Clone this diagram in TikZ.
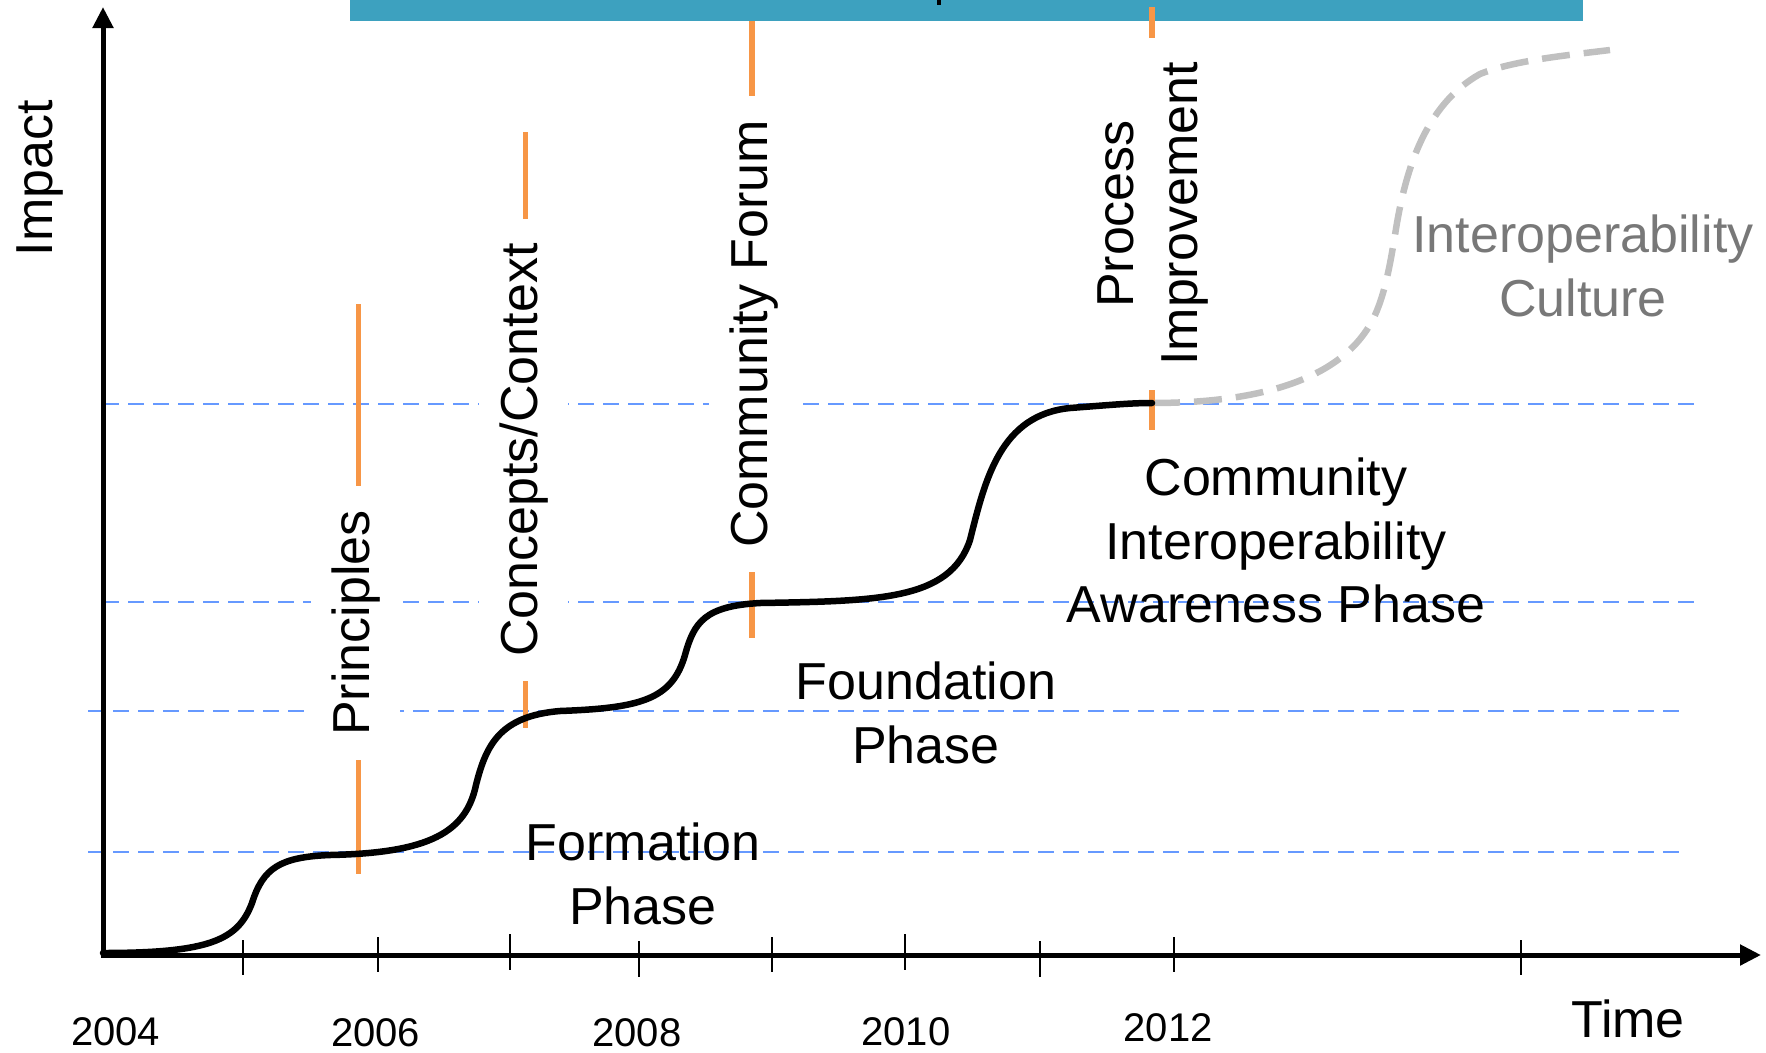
\documentclass[tikz,border=0pt]{standalone}
\usepackage{fontspec}
\setmainfont{Liberation Sans}
\usetikzlibrary{arrows.meta}
\definecolor{barblue}{RGB}{61,161,191}
\definecolor{gridblue}{RGB}{102,153,255}
\definecolor{mileorange}{RGB}{247,150,70}
\definecolor{futuregray}{RGB}{192,192,192}
\definecolor{labelgray}{RGB}{120,120,120}
\tikzset{
  gridline/.style={gridblue, line width=2.7pt, dash pattern=on 16pt off 9pt},
  milestone/.style={mileorange, line width=5.5pt},
  vlabel/.style={rotate=90, fill=white, inner xsep=24pt, inner ysep=20pt, font=\fontsize{52}{64}\selectfont},
  phase/.style={align=center, inner sep=0pt, anchor=north, font=\fontsize{52}{63.5}\selectfont},
  yearlabel/.style={anchor=base, inner sep=0pt, font=\fontsize{40}{48}\selectfont},
  biglabel/.style={anchor=base, inner sep=0pt, font=\fontsize{52}{63}\selectfont},
  axisline/.style={line width=5pt, -{Triangle[length=21pt,width=20pt]}},
  tickline/.style={line width=2.5pt},
  growth/.style={line width=6.5pt, line cap=round},
  future/.style={futuregray, line width=6.5pt, dash pattern=on 28pt off 14pt},
}
\begin{document}
\begin{tikzpicture}[x=1pt,y=-1pt]
\useasboundingbox (0,0) rectangle (1766,1052);

% top bar
\fill[barblue] (350,0) rectangle (1583,21);
\fill[black] (937,0) rectangle (941,5);

% horizontal dashed reference lines
\draw[gridline] (103,404) -- (1695,404);
\draw[gridline] (103,602) -- (1695,602);
\draw[gridline] (88,711) -- (1680,711);
\draw[gridline] (88,852) -- (1680,852);

% future (dashed grey) curve
\draw[future] (1152,403) .. controls (1280,403) and (1350,370) .. (1375,315)
  .. controls (1385,293) and (1390,265) .. (1395,235)
  .. controls (1405,170) and (1425,105) .. (1480,74)
  .. controls (1515,60) and (1570,55) .. (1610,50);

% milestone lines
\draw[milestone] (358.5,304) -- (358.5,874);
\draw[milestone] (525.5,132) -- (525.5,728);
\draw[milestone] (752,21) -- (752,638);
\draw[milestone] (1152,7) -- (1152,430);

% milestone labels
\node[vlabel, anchor=base] (principles) at (369,623) {Principles};
\node[vlabel, anchor=base] (concepts) at (537,450) {Concepts/Context};
\node[vlabel, anchor=base] (forum) at (767,334) {Community Forum};
\node[vlabel, anchor=north, align=center] (process) at (1078,214) {Process\\Improvement};

% phase labels
\node[phase] (formation) at (643,823) {Formation\\Phase};
\node[phase] (foundation) at (926,662) {Foundation\\Phase};
\node[phase] (awareness) at (1276,458) {Community\\Interoperability\\Awareness Phase};
\node[phase, text=labelgray] (culture) at (1583,215) {Interoperability\\Culture};

% growth curve
\draw[growth] (103,953) .. controls (210,953) and (238,940) .. (252,903)
  .. controls (263,868) and (280,857) .. (330,855)
  .. controls (430,853) and (466,832) .. (476,785)
  .. controls (486,745) and (500,716) .. (560,711)
  .. controls (640,708) and (672,700) .. (685,655)
  .. controls (694,622) and (705,606) .. (760,603)
  .. controls (880,601) and (950,600) .. (970,540)
  .. controls (985,480) and (1000,415) .. (1070,408)
  .. controls (1110,405) and (1130,403) .. (1152,403);

% axes
\coordinate (origin) at (103,957.5);
\coordinate (ytop) at (103,7);
\coordinate (xorigin) at (100.5,955);
\coordinate (xend) at (1761,955);
\draw[axisline] (origin) -- (ytop);
\draw[axisline] (xorigin) -- (xend);

% ticks
\draw[tickline] (243,940) -- (243,975);
\draw[tickline] (378,937) -- (378,972);
\draw[tickline] (510,934) -- (510,970);
\draw[tickline] (639,941) -- (639,977);
\draw[tickline] (772,937) -- (772,972);
\draw[tickline] (905,934) -- (905,970);
\draw[tickline] (1040,941) -- (1040,977);
\draw[tickline] (1174,937) -- (1174,972);
\draw[tickline] (1521,940) -- (1521,975);

% axis labels
\node[yearlabel] (y2004) at (115.5,1045) {2004};
\node[yearlabel] (y2006) at (375.5,1046.5) {2006};
\node[yearlabel] (y2008) at (637,1046.5) {2008};
\node[yearlabel] (y2010) at (906,1045) {2010};
\node[yearlabel] (y2012) at (1168,1041) {2012};
\node[biglabel] (time) at (1628,1037) {Time};
\node[biglabel, rotate=90] (impact) at (52,178) {Impact};
\end{tikzpicture}
\end{document}
